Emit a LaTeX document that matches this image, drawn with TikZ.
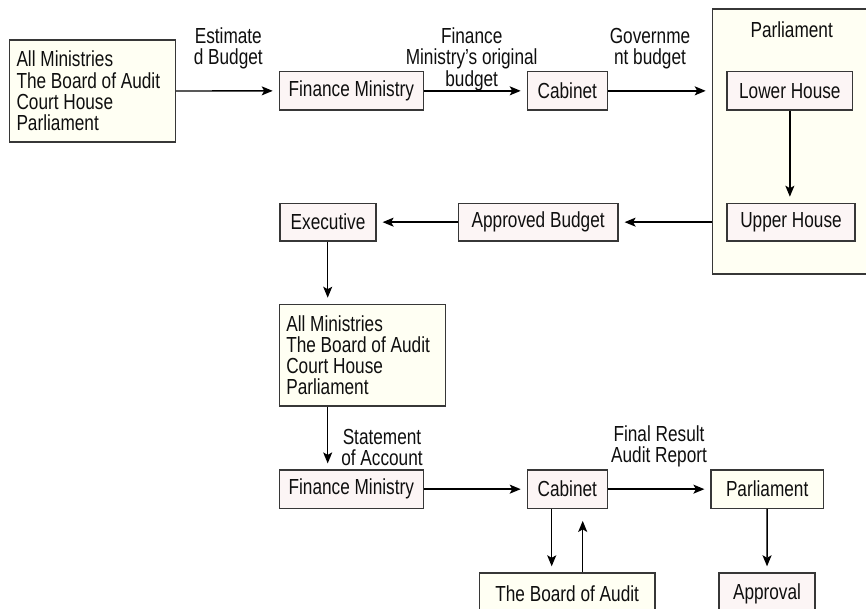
\documentclass[tikz,border=0pt]{standalone}
\usepackage{fontspec}
\setmainfont{Liberation Sans}[FakeStretch=0.79]
\usetikzlibrary{arrows.meta,calc}
\definecolor{cream}{RGB}{255,255,243}
\definecolor{pinkish}{RGB}{252,245,245}
\definecolor{edgegray}{RGB}{55,55,55}
\definecolor{ink}{RGB}{15,15,15}
\begin{document}
\begin{tikzpicture}[x=1pt,y=-1pt,
  font=\fontsize{21.8}{21.2}\selectfont, text=ink,
  box/.style={draw=edgegray, line width=1.2pt, inner sep=0pt, align=center},
  cbox/.style={box, fill=cream},
  pbox/.style={box, fill=pinkish},
  multibox/.style={cbox, align=flush left, text width=152pt, inner xsep=7pt, inner ysep=0pt},
  conn/.style={-{Stealth[length=11pt,width=9pt,inset=2.5pt]}, line width=1.4pt, draw=black, shorten >=6pt},
  lbl/.style={align=center, inner sep=0pt}]
\useasboundingbox (0,0) rectangle (866,608);
\fill[white] (0,0) rectangle (866,608);

% top row
\node[multibox, minimum height=102pt] (src1) at (92.5,91) {All Ministries\\The Board of Audit\\Court House\\Parliament};
\node[pbox, minimum width=144pt, minimum height=38.3pt] (fm1) at (351.3,90.85) {Finance Ministry};
\node[pbox, minimum width=80pt, minimum height=38.3pt] (cab1) at (567.3,90.85) {Cabinet};
\node[cbox, anchor=north west, minimum width=170pt, minimum height=265pt] (parl) at (711.7,8.3) {};
\node[lbl] (parllbl) at (791.7,29.3) {Parliament};
\node[pbox, minimum width=125.7pt, minimum height=38.3pt] (lh) at (789.85,90.85) {Lower House};
\node[pbox, minimum width=128pt, minimum height=37.7pt] (uh) at (791,222.15) {Upper House};

% second row
\node[pbox, minimum width=159.7pt, minimum height=37.7pt] (ab) at (538.15,222.15) {Approved Budget};
\node[pbox, minimum width=96pt, minimum height=37.7pt] (ex) at (328,222.15) {Executive};

% middle
\node[multibox, minimum height=101.7pt] (src2) at (362.3,355.15) {All Ministries\\The Board of Audit\\Court House\\Parliament};

% bottom row
\node[pbox, minimum width=144pt, minimum height=38.3pt] (fm2) at (351.3,489.15) {Finance Ministry};
\node[pbox, minimum width=80pt, minimum height=38.3pt] (cab2) at (567.3,489.15) {Cabinet};
\node[cbox, minimum width=112.3pt, minimum height=38.3pt] (parl2) at (767.15,489.15) {Parliament};
\node[cbox, anchor=north, minimum width=175.7pt, minimum height=41pt] (boa) at (567.15,572.3) {The Board of Audit};
\node[pbox, anchor=north, minimum width=96pt, minimum height=41pt] (appr) at (767,572.3) {Approval};

% helper coordinates
\coordinate (xv) at (327.7,0);
\coordinate (xdown) at (551.7,0);
\coordinate (xup) at (582.7,0);

% connectors
\draw[conn] (src1.east) -- (fm1.west);
\draw[conn] (fm1.east) -- (cab1.west);
\draw[conn] (cab1.east) -- (cab1.east -| parl.west);
\draw[conn] (lh.south) -- (lh.south |- uh.north);
\draw[conn] (parl.west |- ab.east) -- (ab.east);
\draw[conn] (ab.west) -- (ex.east);
\draw[conn] (ex.south -| xv) -- (src2.north -| xv);
\draw[conn] (src2.south -| xv) -- (fm2.north -| xv);
\draw[conn] (fm2.east) -- (cab2.west);
\draw[conn] (cab2.east) -- (parl2.west);
\draw[conn] (cab2.south -| xdown) -- (boa.north -| xdown);
\draw[conn, shorten >=12pt] (boa.north -| xup) -- (cab2.south -| xup);
\draw[conn] (parl2.south) -- (appr.north);

% labels
\node[lbl] (l1) at (228.3,48.5) {Estimate\\d Budget};
\node[lbl] (l2) at (471.7,59.2) {Finance\\Ministry’s original\\budget};
\node[lbl] (l3) at (650,48.8) {Governme\\nt budget};
\node[lbl] (l4) at (382,447.5) {Statement\\of Account};
\node[lbl] (l5) at (659,446.7) {Final Result\\Audit Report};
\end{tikzpicture}
\end{document}
